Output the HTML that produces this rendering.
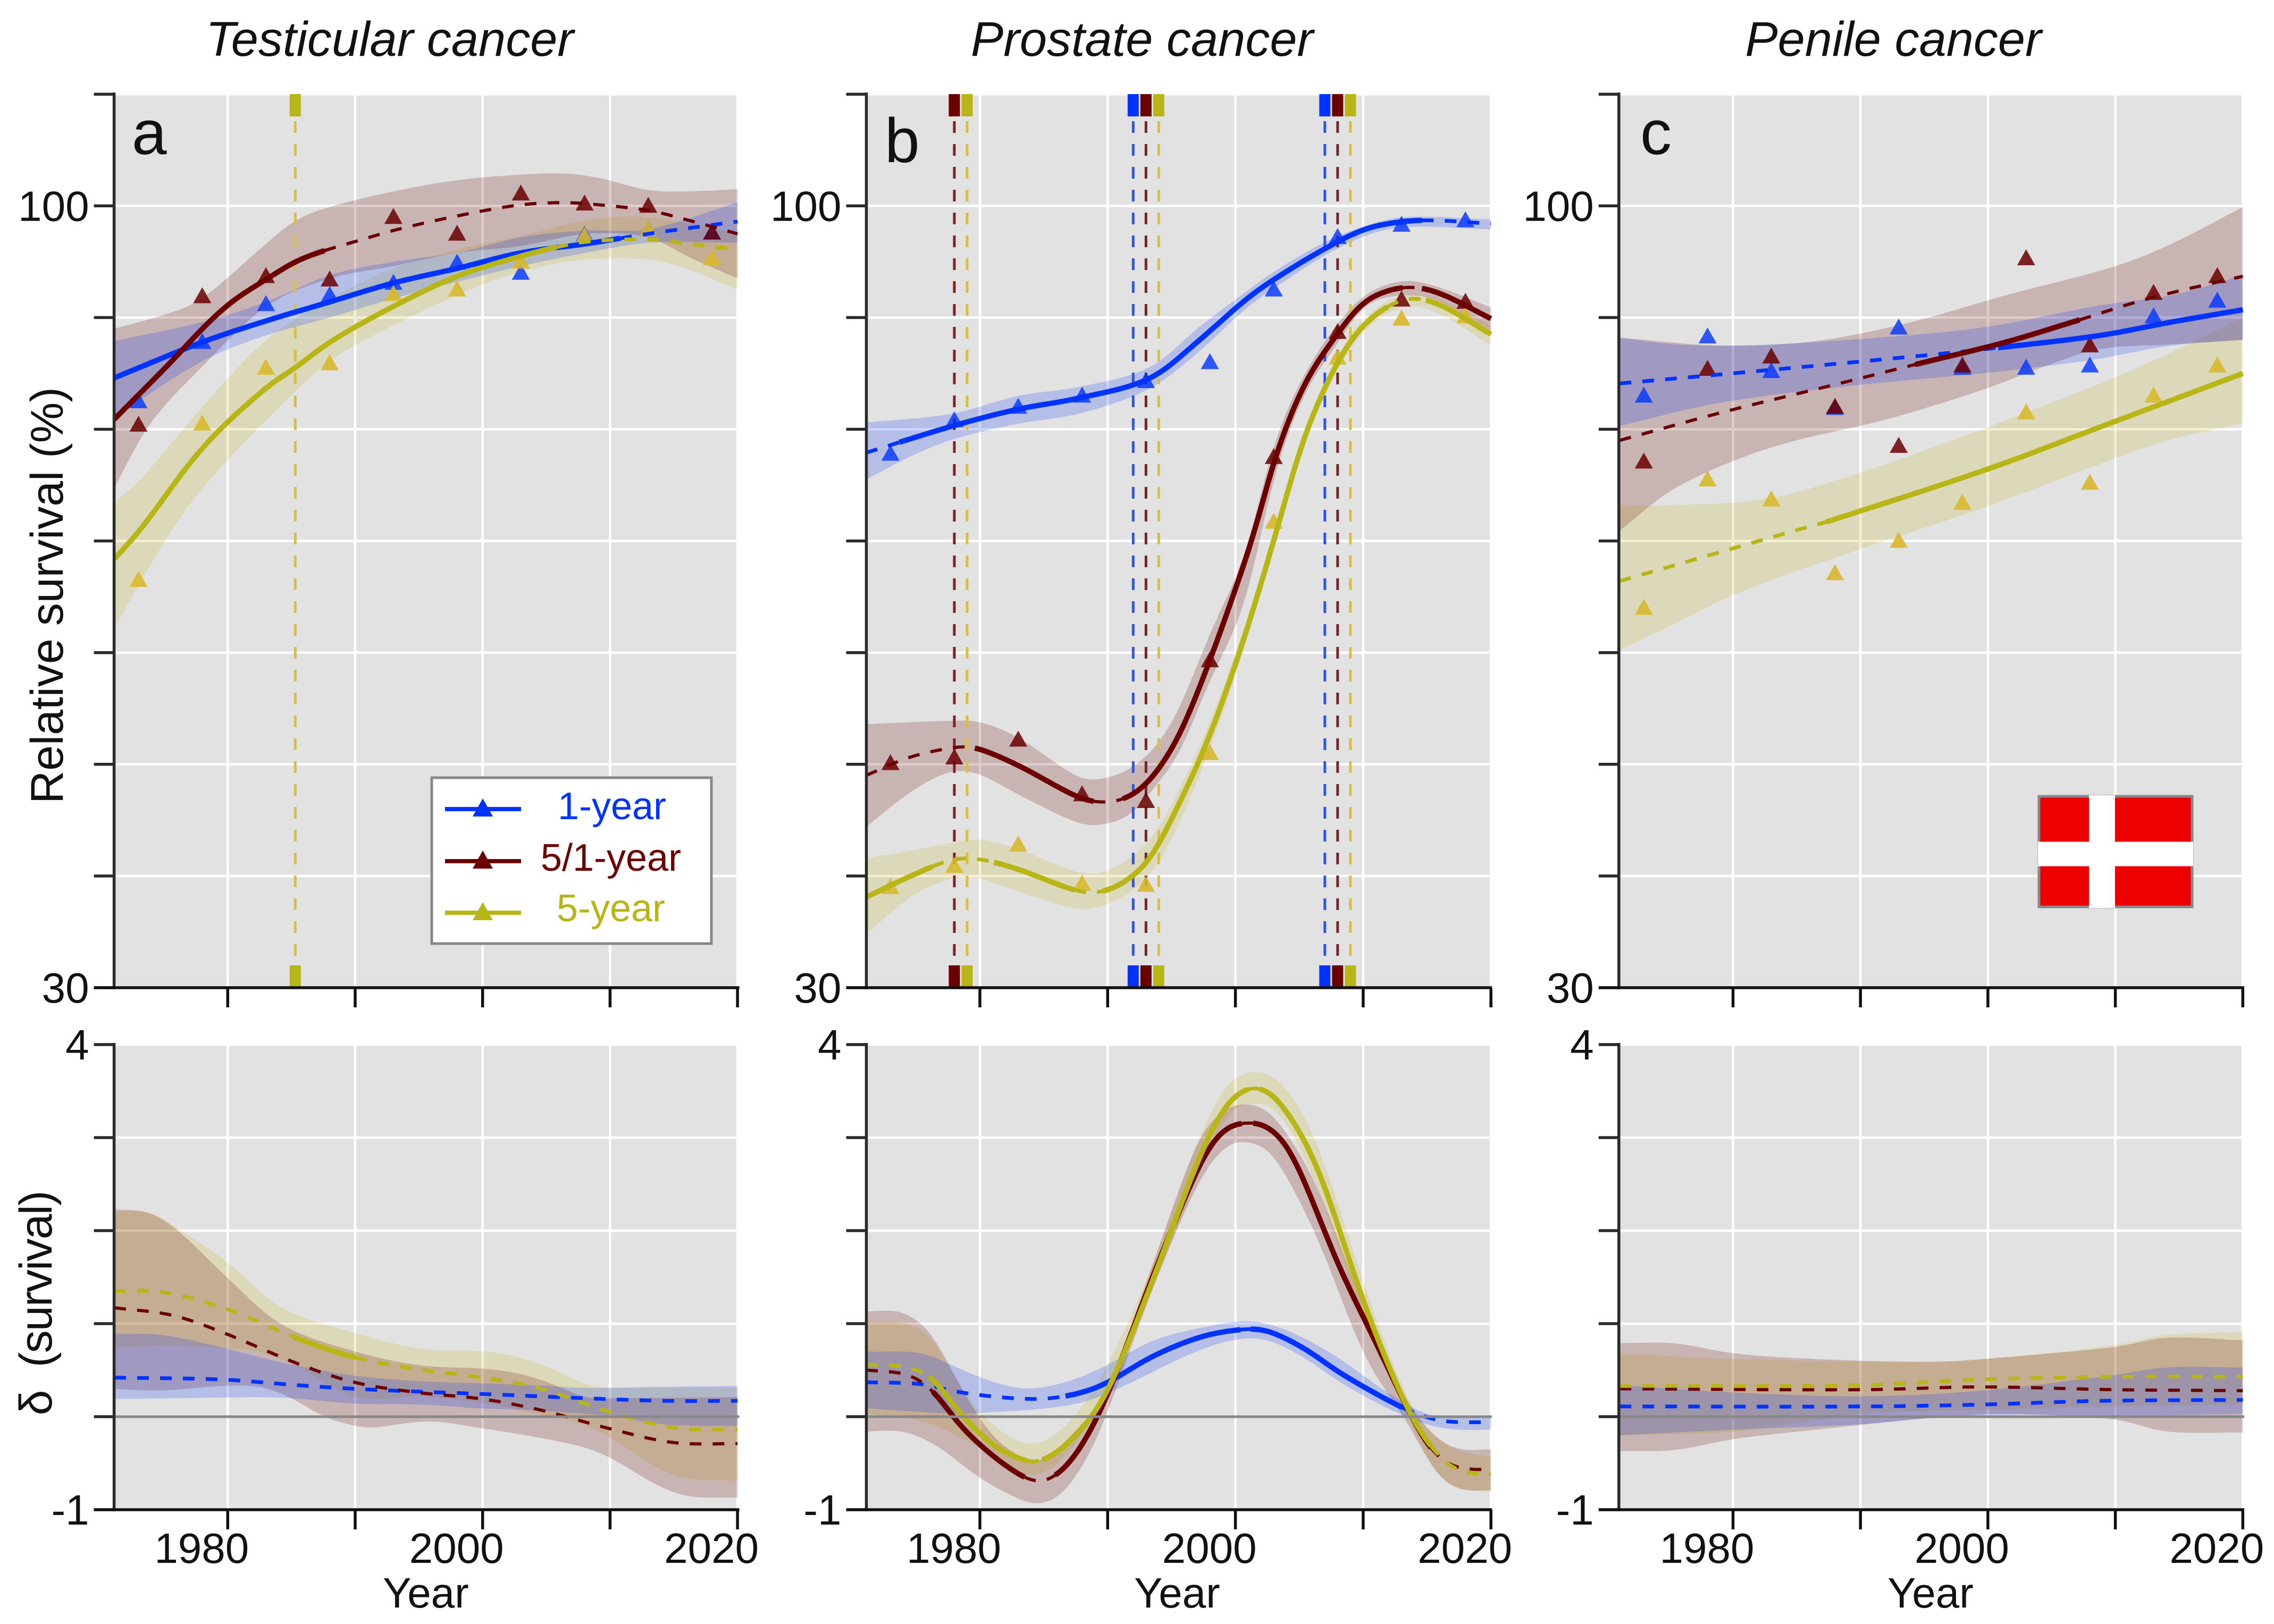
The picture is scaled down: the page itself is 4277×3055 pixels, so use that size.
<!DOCTYPE html>
<html lang="en">
<head>
<meta charset="utf-8">
<title>Relative survival of male genital cancers in Denmark</title>
<style>
html,body{margin:0;padding:0;background:#fff}
svg{display:block}
text{font-family:"Liberation Sans",sans-serif;fill:#111}
</style>
</head>
<body>
<svg id="chart" xmlns="http://www.w3.org/2000/svg" width="4277" height="3055" viewBox="0 0 4277 3055">
<rect x="0" y="0" width="4277" height="3055" fill="#ffffff"/>
<g id="plots"></g>
<text x="733" y="105" font-size="92" font-style="italic" text-anchor="middle">Testicular cancer</text>
<text x="2148" y="105" font-size="92" font-style="italic" text-anchor="middle">Prostate cancer</text>
<text x="3561" y="105" font-size="92" font-style="italic" text-anchor="middle">Penile cancer</text>
<text x="248" y="290" font-size="118">a</text>
<text x="1664" y="305" font-size="118">b</text>
<text x="3085" y="290" font-size="118">c</text>
<text transform="translate(118 1120) rotate(-90)" font-size="86" text-anchor="middle">Relative survival (%)</text>
<text transform="translate(97 2451) rotate(-90)" font-size="86" text-anchor="middle" style="white-space:pre" textLength="423">δ  (survival)</text>
<text x="801" y="3024" font-size="80" text-anchor="middle">Year</text>
<text x="2214" y="3024" font-size="80" text-anchor="middle">Year</text>
<text x="3631" y="3024" font-size="80" text-anchor="middle">Year</text>

<g>
<rect x="812" y="1463" width="526" height="312" fill="#ffffff" stroke="#888888" stroke-width="5"/>
<g>
<line x1="837" y1="1522" x2="980" y2="1522" stroke="#0033ff" stroke-width="8"/>
<polygon points="889,1536 927,1536 908,1502" fill="#0033ff"/>
<text x="1151" y="1541" font-size="72" text-anchor="middle" style="fill:#0033ff">1-year</text>
</g>
<g>
<line x1="837" y1="1620" x2="980" y2="1620" stroke="#6b0000" stroke-width="8"/>
<polygon points="889,1634 927,1634 908,1600" fill="#6b0000"/>
<text x="1149" y="1638" font-size="72" text-anchor="middle" style="fill:#6b0000">5/1-year</text>
</g>
<g>
<line x1="837" y1="1717" x2="980" y2="1717" stroke="#b8b516" stroke-width="8"/>
<polygon points="889,1731 927,1731 908,1697" fill="#b8b516"/>
<text x="1149" y="1733" font-size="72" text-anchor="middle" style="fill:#b8b516">5-year</text>
</g>
</g>

<g>
<rect x="3835" y="1498" width="288" height="208" fill="#ee0000" stroke="#888888" stroke-width="5"/>
<rect x="3929" y="1496" width="49" height="212" fill="#ffffff"/>
<rect x="3833" y="1583.5" width="292" height="46" fill="#ffffff"/>
</g>
</svg>

<script>
/* ---------- shared axis data ---------- */
const survivalTicks = [30, 40, 50, 60, 70, 80, 90, 100, 110];
const survivalTickLabels = ['30', '', '', '', '', '', '', '100', ''];
const deltaTicks = [-1, 0, 1, 2, 3, 4];
const deltaTickLabels = ['-1', '', '', '', '', '4'];
const yearTicks = [1980, 1990, 2000, 2010, 2020];
const yearTickLabels = ['1980', '', '2000', '', '2020'];
const periodYears = [1973, 1978, 1983, 1988, 1993, 1998, 2003, 2008, 2013, 2018];

/* ---------- panel a: testicular, survival ---------- */
const aTopBlueMean = [[1971.1,84.6],[1978,87.8],[1983,89.7],[1988,91.4],[1993,93.1],[1998,94.4],[2003,95.8],[2008.1,96.6],[2013,97.5],[2020,98.6]];
const aTopBlueUpper = [[1971.1,87.9],[1978,89.6],[1983,91.4],[1988,93.8],[1993,95],[1998,95.8],[2003,97.2],[2008.1,97.8],[2013,97.9],[2020,100.3]];
const aTopBlueLower = [[1971.1,81.1],[1978,86.1],[1983,88.4],[1988,90],[1993,91.7],[1998,93.2],[2003,94.6],[2008.1,95.8],[2013,96.7],[2020,96.7]];
const aTopBlueSolid = [[1971.1,2010.8]];
const aTopBluePoints = [82.6,87.9,91.3,92.1,93.2,95,94.1,97.5,98,97.7];
const aTopMaroonMean = [[1971.1,80.9],[1975.7,86.2],[1978,89],[1980.3,91.4],[1983,93.4],[1985.3,95],[1987.6,96],[1990.3,96.9],[1993,97.8],[1998,99.1],[2003,100.1],[2006.5,100.3],[2008.1,100.2],[2013,99.6],[2016.2,98.7],[2020,97.5]];
const aTopMaroonUpper = [[1971.1,89],[1975.7,90.5],[1978,91.7],[1983,96.6],[1985.3,98.7],[1988,99.9],[1993,101.3],[1998,102.3],[2003,102.8],[2006.5,102.9],[2009.2,102.5],[2013,101.4],[2016.2,101.3],[2020,101.5]];
const aTopMaroonLower = [[1971.1,74.7],[1973.7,80.2],[1978,85.6],[1983,91],[1988,93.5],[1993,94.6],[1998,95.8],[2003,96.4],[2008.1,97.5],[2013,97.2],[2016.2,95.4],[2020,93.5]];
const aTopMaroonSolid = [[1971.1,1987.6]];
const aTopMaroonPoints = [80.5,92,93.8,93.5,99.1,97.6,101.2,100.3,100.1,97.7];
const aTopOliveMean = [[1971.1,68.4],[1973,70.8],[1978,78.3],[1983,83.7],[1985.3,85.5],[1988,87.8],[1993,91],[1998,93.7],[2003,95.5],[2005.8,96.3],[2008.1,96.8],[2013,97],[2016.2,96.6],[2020,96.1]];
const aTopOliveUpper = [[1971.1,73.5],[1973,75.3],[1978,82],[1983,88],[1988,91.7],[1993,94.4],[1998,96.1],[2003,97.3],[2008.1,98.7],[2013,99],[2020,97.5]];
const aTopOliveLower = [[1971.1,62.2],[1975.5,70.8],[1978,74.7],[1983,80.8],[1988,86.1],[1993,89.3],[1998,92],[2003,94.1],[2008.1,95.2],[2013,95.2],[2016.2,94.3],[2020,92.5]];
const aTopOliveSolid = [[1971.1,2005.8]];
const aTopOlivePoints = [66.6,80.6,85.6,86,92.2,92.6,95.1,97.4,98,95.4];
const aBlueBreaks = [];
const aMaroonBreaks = [];
const aOliveBreaks = [1985.3];

/* ---------- panel a: testicular, delta ---------- */
const aDeltaBlueMean = [[1971.1,.42],[1979.5,.4],[1985.3,.34],[1989.9,.3],[1994.9,.27],[2000.8,.24],[2007.7,.2],[2014.3,.17],[2020,.17]];
const aDeltaBlueUpper = [[1971.1,.89],[1974.8,.88],[1980,.73],[1982.2,.65],[1985,.56],[1990,.44],[1995.2,.38],[1999.7,.36],[2003.8,.34],[2008,.31],[2013.5,.32],[2020,.33]];
const aDeltaBlueLower = [[1971.1,.19],[1976.7,.2],[1982.6,.21],[1985,.2],[1990,.14],[1995.2,.13],[1999.7,.09],[2003.8,.07],[2008,.03],[2010,.005],[2012.1,-.04],[2014.9,-.09],[2020,-.1]];
const aDeltaBlueSolid = [];
const aDeltaMaroonMean = [[1971.1,1.17],[1975.7,1.09],[1979.9,.89],[1985.3,.58],[1989.9,.37],[1994.9,.26],[2000,.19],[2004.6,.07],[2010,-.13],[2015,-.28],[2020,-.29]];
const aDeltaMaroonUpper = [[1971.1,2.23],[1973.9,2.19],[1976.1,2],[1980,1.49],[1984.1,1],[1990,.7],[1995.2,.55],[1999.7,.52],[2001.8,.49],[2003.8,.43],[2005.9,.33],[2008,.21],[2010.8,.2],[2020,.21]];
const aDeltaMaroonLower = [[1971.1,.3],[1974.8,.28],[1979.4,.33],[1982.6,.32],[1985,.2],[1987.4,.01],[1990,-.1],[1991.5,-.12],[1993.4,-.08],[1996.2,-.05],[1999.7,-.12],[2003.8,-.21],[2008,-.33],[2010,-.44],[2012.1,-.61],[2014.2,-.77],[2016.3,-.86],[2020,-.87]];
const aDeltaMaroonSolid = [];
const aDeltaOliveMean = [[1971.1,1.35],[1974.9,1.34],[1980.3,1.14],[1985.3,.85],[1989.9,.64],[1994.9,.51],[2000,.42],[2004.6,.3],[2010,.05],[2015,-.12],[2020,-.14]];
const aDeltaOliveUpper = [[1971.1,2.21],[1973.9,2.2],[1976.1,2.02],[1980,1.66],[1984.1,1.18],[1990,.9],[1995.2,.73],[1999.7,.71],[2001.8,.67],[2003.8,.6],[2005.9,.49],[2008,.35],[2009.7,.31],[2013.5,.31],[2020,.31]];
const aDeltaOliveLower = [[1971.1,.75],[1976.7,.76],[1980,.73],[1982.2,.71],[1985,.57],[1985.9,.51],[1987.8,.35],[1990,.21],[1992.4,.19],[1995.2,.22],[1999.7,.15],[2001.8,.11],[2003.8,.04],[2006.3,-.02],[2008.3,-.11],[2010,-.22],[2012.1,-.41],[2014.2,-.59],[2016.3,-.67],[2020,-.69]];
const aDeltaOliveSolid = [[1985.1,1990]];

/* ---------- panel b: prostate, survival ---------- */
const bTopBlueMean = [[1971.1,77.9],[1977.9,80.3],[1983,81.8],[1987.8,82.8],[1993.4,84.6],[1997.1,87.9],[2000.8,91.6],[2003,93.4],[2006.9,96.1],[2010.1,97.9],[2013.1,98.6],[2015.7,98.7],[2020,98.4]];
const bTopBlueUpper = [[1971.1,80.6],[1977.9,81.4],[1983,83],[1987.8,83.8],[1993.4,85.6],[1997.1,89.1],[2000.8,92.3],[2003,94.1],[2006.9,96.7],[2010.1,98.2],[2013.1,99],[2020,98.8]];
const bTopBlueLower = [[1971.1,75.5],[1974.8,77.7],[1977.9,79.1],[1983,80.5],[1987.8,81.4],[1993.4,83.7],[1997.1,86.9],[2000.8,90.8],[2003,92.6],[2006.9,95.5],[2010.1,97.3],[2013.1,98.1],[2020,97.9]];
const bTopBlueSolid = [[1973.7,2014.6]];
const bTopBluePoints = [77.9,80.9,82.1,83.1,84.4,86.1,92.6,97.3,98.4,98.8];
const bTopMaroonMean = [[1971.1,49],[1974.4,50.6],[1977.9,51.5],[1979.6,51.5],[1983,49.9],[1987.8,47],[1989.6,46.6],[1991.5,47],[1993.4,48.7],[1995.6,52.6],[1998,59.3],[2000,65.7],[2001.5,70.8],[2003,77.1],[2005.3,83.8],[2007.9,88.4],[2010.1,91.4],[2013.1,92.7],[2015.7,92.3],[2020,89.9]];
const bTopMaroonUpper = [[1971.1,53.6],[1977.9,53.9],[1980,53.8],[1983,52.4],[1987.8,48.8],[1989.6,48.7],[1991.9,49.7],[1993.9,51.8],[1995.6,55],[1998,61.7],[2000.8,69],[2003,78.6],[2005.3,84.7],[2007.9,89.3],[2010.1,92],[2013.1,93.3],[2015.7,92.8],[2020,90.9]];
const bTopMaroonLower = [[1971.1,44.4],[1974.8,47.7],[1977.9,49.4],[1980,49.1],[1983,47.3],[1987.8,44.7],[1989.6,44.6],[1991.9,45.6],[1993.9,48.3],[1995.6,51],[1998,57.5],[2000.8,64.7],[2003,75.6],[2005.3,82.9],[2007.9,87.5],[2010.1,91],[2013.1,92],[2015.7,91.6],[2020,88.8]];
const bTopMaroonSolid = [[1979.6,1988.9],[1991.2,2013.1],[2014.6,2020]];
const bTopMaroonPoints = [50.2,50.7,52.3,47.4,46.8,59.4,77.6,88.8,91.7,91.5];
const bTopOliveMean = [[1971.1,38.1],[1974.4,39.9],[1977.9,41.5],[1980,41.5],[1983,40.6],[1987.8,38.6],[1989.6,38.6],[1991.5,39.6],[1993.4,41.7],[1995.6,46.5],[1998,52.6],[2000.8,61.7],[2003.2,70.8],[2005.3,79],[2007.9,85.8],[2010.1,89.4],[2013.1,91.6],[2015.7,91.3],[2020,88.5]];
const bTopOliveUpper = [[1971.1,41.6],[1974.8,42.3],[1977.9,43],[1980,43.3],[1983,42.4],[1987.8,40.3],[1989.6,40.3],[1991.9,41.7],[1993.9,44.1],[1995.6,47.7],[1998,53.8],[2000.8,62.6],[2003.2,71.7],[2005.3,79.4],[2007.9,86.4],[2010.1,90],[2013.1,92],[2015.7,91.7],[2020,89.3]];
const bTopOliveLower = [[1971.1,34.8],[1974.8,38.3],[1977.9,39.8],[1980,39.8],[1983,38.6],[1987.8,37],[1989.6,37.3],[1991.9,38.6],[1993.9,41],[1995.6,44.7],[1998,51.4],[2000.8,60.8],[2003.2,71],[2005.3,78.4],[2007.9,85.2],[2010.1,88.8],[2013.1,91],[2015.7,90.5],[2020,87.5]];
const bTopOliveSolid = [[1971.1,1976.3],[1981.1,1987.4],[1989.6,2011.9],[2014.9,2020]];
const bTopOlivePoints = [39.1,41,42.9,39.4,39.3,51.1,71.8,86.5,90,90.2];
const bBlueBreaks = [1992, 2007];
const bMaroonBreaks = [1978, 1993, 2008];
const bOliveBreaks = [1979, 1994, 2009];

/* ---------- panel b: prostate, delta ---------- */
const bDeltaBlueMean = [[1971.1,.37],[1975.5,.35],[1978.5,.26],[1983.7,.19],[1986.7,.22],[1989.6,.34],[1993.4,.64],[1997.1,.85],[2000,.93],[2002.3,.93],[2005.3,.74],[2008.2,.47],[2011.9,.18],[2014.2,.03],[2016.4,-.05],[2020,-.06]];
const bDeltaBlueUpper = [[1971.1,.7],[1975.5,.68],[1978.5,.51],[1981.1,.37],[1983.7,.3],[1986.7,.37],[1989.6,.53],[1993.4,.81],[1997.1,.95],[2000.8,1.03],[2003,.98],[2005.3,.85],[2008.2,.62],[2011.9,.26],[2014.9,.03],[2017.2,-.01],[2020,-.01]];
const bDeltaBlueLower = [[1971.1,.09],[1975.5,.05],[1978.5,.03],[1981.1,.05],[1984.5,.08],[1988.2,.16],[1991.9,.37],[1995.6,.62],[1999.3,.81],[2002.3,.83],[2005.3,.64],[2008.2,.37],[2011.9,.09],[2014.9,-.08],[2017.2,-.14],[2020,-.14]];
const bDeltaBlueSolid = [[1986.7,2000.4],[2001.2,2013.1]];
const bDeltaMaroonMean = [[1971.1,.5],[1974.4,.45],[1976.3,.28],[1978.5,-.1],[1981.1,-.43],[1983.3,-.64],[1984.5,-.7],[1985.9,-.64],[1987.8,-.35],[1990,.24],[1993.4,1.46],[1997.1,2.68],[1998.9,3.06],[2000.8,3.16],[2002.7,3.1],[2004.5,2.8],[2008.2,1.59],[2011.2,.74],[2013.4,.11],[2015.3,-.35],[2017.2,-.54],[2020,-.57]];
const bDeltaMaroonUpper = [[1971.1,1.13],[1974,1.12],[1976.3,.87],[1978.5,.32],[1981.1,-.22],[1984.5,-.48],[1986.7,-.26],[1990,.32],[1993.4,1.59],[1997.1,2.97],[1999.3,3.31],[2001,3.36],[2003,3.23],[2006.4,2.47],[2010.1,1.16],[2013.4,.18],[2015.7,-.22],[2017.5,-.35],[2020,-.35]];
const bDeltaMaroonLower = [[1971.1,-.16],[1974,-.16],[1976.6,-.31],[1979.6,-.62],[1982.2,-.83],[1984.6,-.94],[1986.7,-.79],[1988.9,-.31],[1990.4,.2],[1993.4,1.33],[1997.1,2.51],[1999.3,2.91],[2001,2.95],[2003,2.8],[2006.4,1.92],[2010.1,.66],[2013.4,-.05],[2015.7,-.6],[2017.5,-.78],[2020,-.79]];
const bDeltaMaroonSolid = [[1976.3,1983.5],[1985.9,2000.5],[2001.4,2015.3]];
const bDeltaOliveMean = [[1971.1,.56],[1974.4,.53],[1976.3,.41],[1978.5,.03],[1981.1,-.31],[1983.7,-.48],[1984.8,-.48],[1987.4,-.22],[1990,.28],[1993.4,1.42],[1997.1,2.76],[1999.3,3.35],[2001.4,3.54],[2003.4,3.39],[2006.4,2.68],[2010.1,1.21],[2013.4,.11],[2015.7,-.39],[2017.5,-.58],[2020,-.62]];
const bDeltaOliveUpper = [[1971.1,1.02],[1974.4,1],[1976.3,.83],[1978.5,.32],[1981.1,-.1],[1984.1,-.3],[1986.7,-.1],[1989.6,.45],[1993.4,1.59],[1997.1,2.97],[1999.3,3.56],[2001.5,3.71],[2003.8,3.56],[2006.4,2.93],[2010.1,1.42],[2013.4,.22],[2015.7,-.22],[2017.5,-.37],[2020,-.43]];
const bDeltaOliveLower = [[1971.1,.03],[1974,-.01],[1976.6,-.1],[1979.6,-.31],[1982.2,-.52],[1984.1,-.64],[1986.3,-.48],[1988.9,-.01],[1990.4,.37],[1993.4,1.33],[1997.1,2.59],[1999.3,3.23],[2001.4,3.37],[2003.6,3.23],[2006.4,2.47],[2010.1,1],[2013.4,.03],[2015.7,-.6],[2017.5,-.77],[2020,-.81]];
const bDeltaOliveSolid = [[1976,1983.7],[1984.9,2001],[2001.9,2015.3]];

/* ---------- panel c: penile, survival ---------- */
const cTopBlueMean = [[1971.1,84.1],[1982.8,85.3],[1994,86.5],[2000.8,87.3],[2008.8,88.4],[2014.4,89.6],[2020,90.7]];
const cTopBlueUpper = [[1971.1,88.2],[1975.4,87.6],[1980.9,87.5],[1990.2,88.1],[1999.5,89.1],[2008.8,91.1],[2014.4,92],[2020,93.8]];
const cTopBlueLower = [[1971.1,80.3],[1979.1,82.4],[1990.2,84],[1999.5,85],[2008.1,86.2],[2014.4,87.5],[2020,88]];
const cTopBlueSolid = [[2000.8,2020]];
const cTopBluePoints = [83.1,88.4,85.3,82,89.2,85.6,85.6,85.8,90.2,91.6];
const cTopMaroonMean = [[1971.1,79],[1979.1,81.5],[1988,84],[1994.3,85.8],[2001.4,87.8],[2007.2,89.8],[2012.6,91.7],[2020,93.7]];
const cTopMaroonUpper = [[1971.1,88.2],[1979.1,87.5],[1986.5,87.9],[1994,89.6],[2001.4,92],[2010,94.6],[2014.4,96.6],[2020,99.9]];
const cTopMaroonLower = [[1971.1,70.9],[1975.4,74.7],[1982.8,78.3],[1992.1,80.9],[1999.5,83.5],[2005.1,85.9],[2008.8,87.2],[2014.4,87.6],[2020,88]];
const cTopMaroonSolid = [[1994.3,2007.2]];
const cTopMaroonPoints = [77.2,85.5,86.6,82.1,78.6,85.8,95.4,87.6,92.3,93.8];
const cTopOliveMean = [[1971.1,66.4],[1980.2,69.4],[1985.4,71.1],[1987.3,71.7],[1999.9,76.4],[2008.8,80.2],[2020,85]];
const cTopOliveUpper = [[1971.1,73.2],[1975.4,73.2],[1982.8,73.8],[1990.2,76.2],[1999.5,80],[2008.8,84.1],[2014.4,86.9],[2020,90]];
const cTopOliveLower = [[1971.1,60.2],[1975.4,62.6],[1980.1,65.2],[1986.5,67.9],[1994,70.8],[1999.5,72.9],[2010,77.4],[2014.4,79.1],[2020,80.5]];
const cTopOliveSolid = [[1987.3,2020]];
const cTopOlivePoints = [64.1,75.6,73.8,67.2,70.1,73.5,81.6,75.3,83.1,85.8];

/* ---------- panel c: penile, delta ---------- */
const cDeltaBlueMean = [[1971.1,.11],[1990.2,.11],[1999.5,.13],[2008.8,.17],[2020,.18]];
const cDeltaBlueUpper = [[1971.1,.34],[1980.1,.26],[1990.2,.22],[1999.5,.28],[2010,.45],[2014,.53],[2020,.53]];
const cDeltaBlueLower = [[1971.1,-.2],[1980.1,-.14],[1990.2,-.08],[1995.8,-.01],[2001.4,.02],[2010,.01],[2020,.03]];
const cDeltaBlueSolid = [];
const cDeltaMaroonMean = [[1971.1,.3],[1990.2,.29],[1999.5,.32],[2010,.29],[2020,.28]];
const cDeltaMaroonUpper = [[1971.1,.79],[1975.4,.79],[1980.1,.68],[1986.5,.62],[1995.8,.59],[2001.4,.64],[2010,.75],[2014,.85],[2020,.82]];
const cDeltaMaroonLower = [[1971.1,-.37],[1975.4,-.36],[1980.1,-.24],[1986.5,-.14],[1995.8,-.01],[2001.4,.03],[2010,-.03],[2014,-.16],[2020,-.17]];
const cDeltaMaroonSolid = [];
const cDeltaOliveMean = [[1971.1,.33],[1990.2,.34],[1999.5,.4],[2010,.43],[2020,.43]];
const cDeltaOliveUpper = [[1971.1,.68],[1980.1,.62],[1995.8,.59],[2001.4,.64],[2010,.77],[2014,.88],[2020,.91]];
const cDeltaOliveLower = [[1971.1,-.2],[1980.1,-.16],[1990.2,.03],[1999.5,.07],[2010,.11],[2020,.13]];
const cDeltaOliveSolid = [];

/* ---------- layout ---------- */
const SVGNS = 'http://www.w3.org/2000/svg';
const root = document.getElementById('plots');
const COL = {
  blue:   {line:'#0033ff', band:'#0033ff', mark:'#0033ff', markOp:.8, drop:'#2a55ee', name:'1-year', dashW:7},
  maroon: {line:'#6b0000', band:'#6b0000', mark:'#6b0000', markOp:.85, drop:'#7a2525', name:'5-1-year', dashW:6},
  olive:  {line:'#b8b516', band:'#c8b820', mark:'#d8b82c', markOp:.9, drop:'#d8bf3c', name:'5-year', dashW:7}
};
const ORDER = ['blue', 'maroon', 'olive'];
const TOP = {y0:1858, yPerUnit:21.01, base:30, ticks:survivalTicks, labels:survivalTickLabels, top:177, bottom:1858};
const BOT = {y0:2840, yPerUnit:175, base:-1, ticks:deltaTicks, labels:deltaTickLabels, top:1965, bottom:2840};

function mk(parent, tag, attrs, text) {
  const el = document.createElementNS(SVGNS, tag);
  for (const k in attrs) el.setAttribute(k, attrs[k]);
  if (text !== undefined) el.textContent = text;
  parent.appendChild(el);
  return el;
}

/* hermite evaluation through read knots, linear beyond the ends */
function evalRaw(k, t) {
  const n = k.length;
  if (t <= k[0][0]) return k[0][1] + (t - k[0][0]) * (k[1][1] - k[0][1]) / (k[1][0] - k[0][0]);
  if (t >= k[n - 1][0]) return k[n - 1][1] + (t - k[n - 1][0]) * (k[n - 1][1] - k[n - 2][1]) / (k[n - 1][0] - k[n - 2][0]);
  let i = 0;
  while (k[i + 1][0] < t) i++;
  const x0 = k[i][0], x1 = k[i + 1][0], y0 = k[i][1], y1 = k[i + 1][1];
  const slope = j => {
    if (j === 0) return (k[1][1] - k[0][1]) / (k[1][0] - k[0][0]);
    if (j === n - 1) return (k[n - 1][1] - k[n - 2][1]) / (k[n - 1][0] - k[n - 2][0]);
    return (k[j + 1][1] - k[j - 1][1]) / (k[j + 1][0] - k[j - 1][0]);
  };
  const h = x1 - x0, s = (t - x0) / h;
  const m0 = slope(i) * h, m1 = slope(i + 1) * h;
  const s2 = s * s, s3 = s2 * s;
  return (2 * s3 - 3 * s2 + 1) * y0 + (s3 - 2 * s2 + s) * m0 + (-2 * s3 + 3 * s2) * y1 + (s3 - s2) * m1;
}
/* small kernel removes kinks from hand-read knots */
function evalCurve(k, t) {
  return (evalRaw(k, t - 1) + 2 * evalRaw(k, t - .5) + 3 * evalRaw(k, t) + 2 * evalRaw(k, t + .5) + evalRaw(k, t + 1)) / 9;
}
function sampleYears(a, b) {
  const out = [];
  for (let t = a; t < b; t += .2) out.push(t);
  out.push(b);
  return out;
}
function complement(ranges, a, b) {
  const out = [];
  let cur = a;
  ranges.forEach(r => {
    if (r[0] > cur) out.push([cur, r[0]]);
    cur = Math.max(cur, r[1]);
  });
  if (cur < b) out.push([cur, b]);
  return out;
}

function drawPlot(group, layout, scale, series, isTop, breaks) {
  const X = yr => layout.x1980 + (yr - 1980) * layout.perYear;
  const Y = v => scale.y0 - (v - scale.base) * scale.yPerUnit;
  const bg = mk(group, 'rect', {x:layout.left, y:scale.top, width:layout.right - layout.left, height:scale.bottom - scale.top, fill:'#e2e2e2'});
  
  

  const grid = mk(group, 'g', {stroke:'#ffffff', 'stroke-width':4.5});
  
  
  scale.ticks.forEach(v => mk(grid, 'line', {x1:layout.left, x2:layout.right, y1:Y(v), y2:Y(v)}));
  yearTicks.forEach(yr => mk(grid, 'line', {x1:X(yr), x2:X(yr), y1:scale.top, y2:scale.bottom}));

  /* confidence bands */
  ORDER.slice().reverse().forEach(c => {
    const s = series[c];
    const up = sampleYears(s.upper[0][0], s.upper[s.upper.length - 1][0]).map(t => X(t).toFixed(1) + ',' + Y(evalCurve(s.upper, t)).toFixed(1));
    const lo = sampleYears(s.lower[0][0], s.lower[s.lower.length - 1][0]).reverse().map(t => X(t).toFixed(1) + ',' + Y(evalCurve(s.lower, t)).toFixed(1));
    const band = mk(group, 'polygon', {points:up.concat(lo).join(' '), fill:COL[c].band, 'fill-opacity':.2});
    
    
  });

  /* period break markers */
  if (isTop) {
    ORDER.forEach(c => {
      breaks[c].forEach(yr => {
        const drop = mk(group, 'line', {x1:X(yr), x2:X(yr), y1:218, y2:1816, stroke:COL[c].drop, 'stroke-width':5, 'stroke-dasharray':'22 21', 'stroke-dashoffset':-10});
        
        
        [177, 1816].forEach(yy => {
          const bar = mk(group, 'rect', {x:X(yr) - 10.5, y:yy, width:21, height:42, fill:c === 'olive' ? '#b8b516' : COL[c].line});
          
          
        });
      });
    });
  }

  /* period points */
  if (isTop) {
    ORDER.forEach(c => {
      series[c].points.forEach((v, i) => {
        const cx = X(periodYears[i]), cy = Y(v);
        const tri = mk(group, 'polygon', {points:(cx - 17) + ',' + (cy + 15) + ' ' + (cx + 17) + ',' + (cy + 15) + ' ' + cx + ',' + (cy - 15), fill:COL[c].mark, 'fill-opacity':COL[c].markOp});
        
        
      });
    });
  }

  /* smoothed curves */
  ORDER.forEach(c => {
    const s = series[c];
    const a = s.mean[0][0], b = s.mean[s.mean.length - 1][0];
    complement(s.solid, a, b).forEach(r => {
      const pts = sampleYears(r[0], r[1]).map(t => X(t).toFixed(1) + ',' + Y(evalCurve(s.mean, t)).toFixed(1)).join(' ');
      const dash = mk(group, 'polyline', {points:pts, fill:'none', stroke:COL[c].line, 'stroke-width':COL[c].dashW, 'stroke-dasharray':'22 21'});
      
      
    });
    s.solid.forEach(r => {
      const pts = sampleYears(r[0], r[1]).map(t => X(t).toFixed(1) + ',' + Y(evalCurve(s.mean, t)).toFixed(1)).join(' ');
      const solid = mk(group, 'polyline', {points:pts, fill:'none', stroke:COL[c].line, 'stroke-width':10});
      
      
    });
  });

  /* zero line */
  if (!isTop) {
    const zero = mk(group, 'line', {x1:layout.left, x2:layout.right + 3, y1:Y(0), y2:Y(0), stroke:'#888888', 'stroke-width':5});
    
    
  }

  /* axes */
  const yAxis = mk(group, 'g', {stroke:'#2a2a2a', 'stroke-width':5.5});
  
  
  mk(yAxis, 'line', {x1:layout.left, x2:layout.left, y1:scale.top - 3, y2:scale.bottom + 3});
  scale.ticks.forEach((v, i) => {
    mk(yAxis, 'line', {x1:layout.left - 38, x2:layout.left, y1:Y(v), y2:Y(v)});
    if (scale.labels[i]) {
      const lab = mk(group, 'text', {x:layout.left - 47, y:Y(v) + 28, 'font-size':80, 'text-anchor':'end'}, scale.labels[i]);
      
      
    }
  });
  const xAxis = mk(group, 'g', {stroke:'#111111', 'stroke-width':5.5});
  
  
  mk(xAxis, 'line', {x1:layout.left - 38, x2:layout.right + 3, y1:scale.bottom, y2:scale.bottom});
  yearTicks.forEach((yr, i) => {
    mk(xAxis, 'line', {x1:X(yr), x2:X(yr), y1:scale.bottom, y2:scale.bottom + 37});
    if (!isTop && yearTickLabels[i]) {
      const lab = mk(group, 'text', {x:X(yr) - 49, y:2940, 'font-size':80, 'text-anchor':'middle'}, yearTickLabels[i]);
      
      
    }
  });
}

const LAYOUT_A = {left:214.6, right:1387.6, x1980:428.3, perYear:23.97};
const LAYOUT_B = {left:1629.5, right:2803, x1980:1843, perYear:24.03};
const LAYOUT_C = {left:3044.8, right:4218, x1980:3259.5, perYear:23.97};

function addPanel(name, layout, top, delta, breaks) {
  const gTop = mk(root, 'g', {});
  
  
  drawPlot(gTop, layout, TOP, top, true, breaks);
  const gBot = mk(root, 'g', {});
  
  
  drawPlot(gBot, layout, BOT, delta, false, breaks);
}

addPanel('testicular', LAYOUT_A, {
  blue:{mean:aTopBlueMean, upper:aTopBlueUpper, lower:aTopBlueLower, solid:aTopBlueSolid, points:aTopBluePoints},
  maroon:{mean:aTopMaroonMean, upper:aTopMaroonUpper, lower:aTopMaroonLower, solid:aTopMaroonSolid, points:aTopMaroonPoints},
  olive:{mean:aTopOliveMean, upper:aTopOliveUpper, lower:aTopOliveLower, solid:aTopOliveSolid, points:aTopOlivePoints}
}, {
  blue:{mean:aDeltaBlueMean, upper:aDeltaBlueUpper, lower:aDeltaBlueLower, solid:aDeltaBlueSolid},
  maroon:{mean:aDeltaMaroonMean, upper:aDeltaMaroonUpper, lower:aDeltaMaroonLower, solid:aDeltaMaroonSolid},
  olive:{mean:aDeltaOliveMean, upper:aDeltaOliveUpper, lower:aDeltaOliveLower, solid:aDeltaOliveSolid}
}, {blue:aBlueBreaks, maroon:aMaroonBreaks, olive:aOliveBreaks});

addPanel('prostate', LAYOUT_B, {
  blue:{mean:bTopBlueMean, upper:bTopBlueUpper, lower:bTopBlueLower, solid:bTopBlueSolid, points:bTopBluePoints},
  maroon:{mean:bTopMaroonMean, upper:bTopMaroonUpper, lower:bTopMaroonLower, solid:bTopMaroonSolid, points:bTopMaroonPoints},
  olive:{mean:bTopOliveMean, upper:bTopOliveUpper, lower:bTopOliveLower, solid:bTopOliveSolid, points:bTopOlivePoints}
}, {
  blue:{mean:bDeltaBlueMean, upper:bDeltaBlueUpper, lower:bDeltaBlueLower, solid:bDeltaBlueSolid},
  maroon:{mean:bDeltaMaroonMean, upper:bDeltaMaroonUpper, lower:bDeltaMaroonLower, solid:bDeltaMaroonSolid},
  olive:{mean:bDeltaOliveMean, upper:bDeltaOliveUpper, lower:bDeltaOliveLower, solid:bDeltaOliveSolid}
}, {blue:bBlueBreaks, maroon:bMaroonBreaks, olive:bOliveBreaks});

addPanel('penile', LAYOUT_C, {
  blue:{mean:cTopBlueMean, upper:cTopBlueUpper, lower:cTopBlueLower, solid:cTopBlueSolid, points:cTopBluePoints},
  maroon:{mean:cTopMaroonMean, upper:cTopMaroonUpper, lower:cTopMaroonLower, solid:cTopMaroonSolid, points:cTopMaroonPoints},
  olive:{mean:cTopOliveMean, upper:cTopOliveUpper, lower:cTopOliveLower, solid:cTopOliveSolid, points:cTopOlivePoints}
}, {
  blue:{mean:cDeltaBlueMean, upper:cDeltaBlueUpper, lower:cDeltaBlueLower, solid:cDeltaBlueSolid},
  maroon:{mean:cDeltaMaroonMean, upper:cDeltaMaroonUpper, lower:cDeltaMaroonLower, solid:cDeltaMaroonSolid},
  olive:{mean:cDeltaOliveMean, upper:cDeltaOliveUpper, lower:cDeltaOliveLower, solid:cDeltaOliveSolid}
}, {blue:[], maroon:[], olive:[]});
</script>
</body>
</html>
